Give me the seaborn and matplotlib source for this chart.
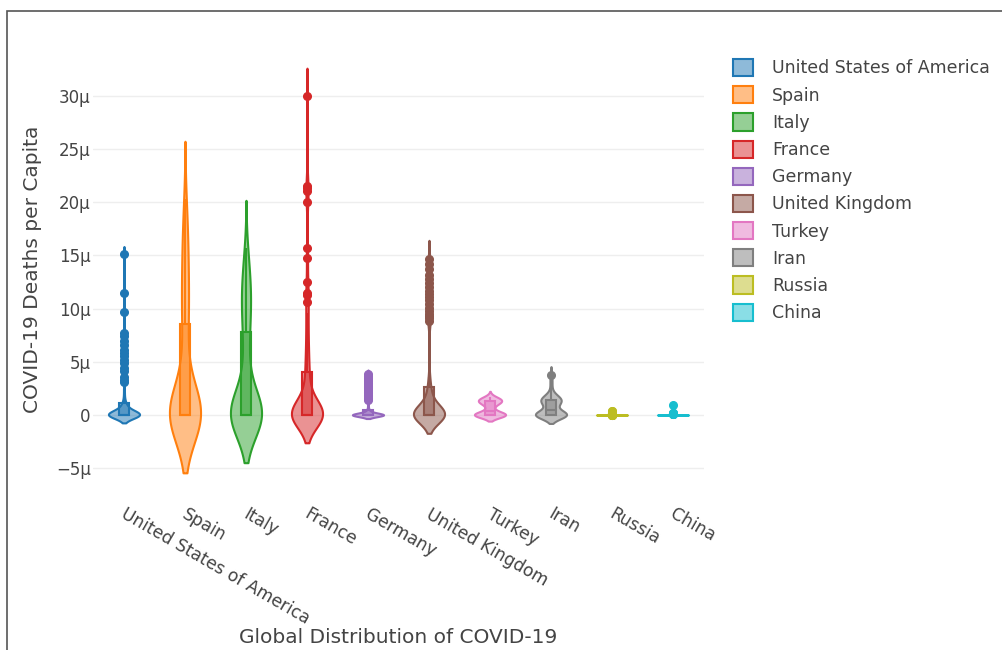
import numpy as np
import pandas as pd
import matplotlib
matplotlib.use("Agg")
import matplotlib.pyplot as plt
import seaborn as sns
from matplotlib.colors import to_rgba
from matplotlib.patches import Patch, Rectangle
from matplotlib.ticker import FuncFormatter, MultipleLocator
from matplotlib.transforms import ScaledTranslation

# Daily COVID-19 deaths per capita, in millionths (μ)
countries = ["United States of America", "Spain", "Italy", "France", "Germany",
             "United Kingdom", "Turkey", "Iran", "Russia", "China"]
colors = ["#1f77b4", "#ff7f0e", "#2ca02c", "#d62728", "#9467bd",
          "#8c564b", "#e377c2", "#7f7f7f", "#bcbd22", "#17becf"]

# days with no deaths reported, per country
zero_days = [34, 44, 44, 40, 45, 40, 32, 35, 62, 48]

# the remaining days
usa = [0.003, 0.006, 0.01, 0.015, 0.02, 0.03, 0.04, 0.05, 0.07, 0.09, 0.12, 0.15, 0.19,
       0.23, 0.28, 0.33, 0.39, 0.45, 0.52, 0.6, 0.68, 0.76, 0.84, 0.92, 1.0, 1.08,
       1.3, 1.8, 2.4, 3.1, 3.3, 3.6, 4.1, 4.4, 4.9, 5.2, 5.5, 5.8, 6.1, 6.6, 7.0, 7.4,
       7.7, 9.7, 11.5, 15.1]
spain = [0.02, 0.05, 0.1, 0.2, 0.4, 0.6, 1.0, 1.5, 2.2, 3.0, 3.9, 4.8, 5.6, 6.5, 7.6, 8.5,
         8.7, 9.1, 9.6, 10.0, 10.5, 11.0, 11.6, 12.1, 12.7, 13.3, 13.9, 14.4, 15.0, 15.6,
         16.2, 16.9, 17.6, 18.3, 19.2, 20.3]
italy = [0.05, 0.15, 0.3, 0.6, 1.0, 1.6, 2.3, 3.0, 3.6, 4.2, 4.8, 5.4, 6.0, 6.6, 7.2, 7.7,
         8.2, 8.7, 9.1, 9.5, 9.8, 10.1, 10.4, 10.7, 11.0, 11.3, 11.6, 11.9, 12.2, 12.5,
         12.9, 13.3, 13.8, 14.4, 15.0, 15.7]
france = [0.01, 0.02, 0.03, 0.05, 0.1, 0.15, 0.2, 0.3, 0.4, 0.6, 0.8, 1.0, 1.3, 1.6, 2.0,
          2.4, 2.8, 3.2, 3.6, 3.9, 4.3, 4.8, 5.3, 5.9, 6.5, 7.2, 8.0, 8.8, 9.6,
          10.6, 11.3, 11.5, 12.5, 14.8, 15.7, 20.0, 21.1, 21.3, 21.5, 30.0]
germany = [0.003, 0.006, 0.01, 0.02, 0.03, 0.05, 0.07, 0.1, 0.13, 0.17, 0.22, 0.27, 0.33,
           0.4, 0.48, 0.6, 0.9, 1.2, 1.45, 1.6, 1.75, 1.9, 2.05, 2.2, 2.35, 2.5, 2.6,
           2.75, 2.9, 3.0, 3.15, 3.3, 3.5, 3.7, 3.9]
uk = [0.015, 0.03, 0.05, 0.08, 0.12, 0.17, 0.23, 0.3, 0.4, 0.5, 0.62, 0.75, 0.9, 1.1, 1.3,
      1.55, 1.8, 2.05, 2.3, 2.55, 2.9, 3.6, 8.8, 9.1, 9.3, 9.5, 9.8, 10.1, 10.4, 10.8,
      11.1, 11.4, 11.7, 12.0, 12.4, 12.8, 13.2, 13.7, 14.2, 14.7]
turkey = [0.01, 0.03, 0.06, 0.1, 0.15, 0.2, 0.27, 0.35, 0.45, 0.55, 0.65, 0.75, 0.85, 0.95,
          1.0, 1.05, 1.08, 1.1, 1.12, 1.15, 1.17, 1.19, 1.21, 1.23, 1.25, 1.27, 1.29, 1.31,
          1.33, 1.35, 1.36, 1.37, 1.38, 1.4, 1.42, 1.43, 1.44, 1.46, 1.47, 1.48, 1.5, 1.52,
          1.54, 1.56, 1.58, 1.6, 1.62, 1.65]
iran = [0.05, 0.1, 0.2, 0.3, 0.4, 0.5, 0.6, 0.7, 0.8, 0.9, 1.0, 1.05, 1.1, 1.12, 1.15,
        1.18, 1.2, 1.22, 1.25, 1.27, 1.3, 1.32, 1.35, 1.37, 1.4, 1.42, 1.45, 1.47, 1.5,
        1.52, 1.55, 1.58, 1.6, 1.63, 1.66, 1.7, 1.74, 1.8, 1.88, 1.96, 2.3, 2.7, 3.1, 3.4,
        3.75]
russia = [0.002, 0.004, 0.007, 0.01, 0.015, 0.02, 0.03, 0.04, 0.05, 0.07, 0.09, 0.12, 0.15,
          0.19, 0.24, 0.29, 0.35, 0.42]
china = [0.001, 0.002, 0.003, 0.005, 0.007, 0.01, 0.012, 0.015, 0.02, 0.025, 0.03, 0.035,
         0.04, 0.045, 0.05, 0.055, 0.06, 0.065, 0.07, 0.075, 0.08, 0.085, 0.09, 0.095, 0.1,
         0.11, 0.12, 0.13, 0.14, 0.15, 0.17, 0.92]

series = [usa, spain, italy, france, germany, uk, turkey, iran, russia, china]
frames = []
for name, zeros, vals in zip(countries, zero_days, series):
    frames.append(pd.DataFrame({"country": name, "deaths": [0.0] * zeros + vals}))
df = pd.concat(frames, ignore_index=True)


def plotly_bandwidth(vals):
    # Silverman's rule as plotly uses it for violins
    q1, q3 = np.percentile(vals, [25, 75])
    sd = vals.std(ddof=1)
    h = 1.059 * min(sd, (q3 - q1) / 1.349) * len(vals) ** -0.2
    return max(h, (vals.max() - vals.min()) / 100)


sns.set_theme(style="white")
plt.rcParams["font.family"] = ["DejaVu Sans"]
text_color = "#444444"

fig = plt.figure(figsize=(10.02, 6.5), dpi=100)
ax = fig.add_axes([0.0933, 0.2454, 0.6088, 0.6806])

for name, color in zip(countries, colors):
    sub = df[df["country"] == name]
    vals = sub["deaths"].to_numpy()
    bw = plotly_bandwidth(vals)

    n0 = len(ax.collections)
    sns.violinplot(data=sub, x="country", y="deaths", order=countries, color=color,
                   saturation=1, bw_method=bw / vals.std(ddof=1), cut=2, gridsize=400,
                   density_norm="width", width=0.51, inner=None, linewidth=1.5,
                   linecolor=color, ax=ax)
    for coll in ax.collections[n0:]:
        coll.set_facecolor(to_rgba(color, 0.5))

    p0 = len(ax.patches)
    sns.boxplot(data=sub, x="country", y="deaths", order=countries, color=color,
                saturation=1, width=0.17, whis=1.5, linewidth=1.5, linecolor=color,
                showcaps=False,
                flierprops=dict(marker="o", markerfacecolor=color, markeredgecolor=color,
                                markersize=5.5),
                ax=ax)
    for patch in ax.patches[p0:]:
        patch.set_facecolor(to_rgba(color, 0.5))

ax.set_ylim(-7.1, 34.5)
ax.set_xlim(-0.5, 9.5)
ax.yaxis.set_major_locator(MultipleLocator(5))
ax.yaxis.set_major_formatter(FuncFormatter(
    lambda v, p: "0" if v == 0 else f"{v:g}μ".replace("-", "\u2212")))
ax.yaxis.grid(True, color="#eeeeee", linewidth=1)
ax.set_axisbelow(True)
for s in ax.spines.values():
    s.set_visible(False)

ax.tick_params(axis="y", length=0, pad=2, labelsize=12, labelcolor=text_color)
ax.tick_params(axis="x", length=0, pad=10.5, labelsize=12.3, labelcolor=text_color)
offset = ScaledTranslation(3 / 100, 0, fig.dpi_scale_trans)
for lab in ax.get_xticklabels():
    lab.set_rotation(-30)
    lab.set_ha("left")
    lab.set_va("top")
    lab.set_rotation_mode("anchor")
    lab.set_transform(lab.get_transform() + offset)

ax.set_xlabel("Global Distribution of COVID-19", fontsize=14.5, color=text_color)
ax.set_ylabel("COVID-19 Deaths per Capita", fontsize=14.5, color=text_color)
ax.xaxis.set_label_coords(0.5, -0.311)
ax.yaxis.set_label_coords(-0.0844, 0.5)

handles = [Patch(facecolor=to_rgba(c, 0.5), edgecolor=c, linewidth=1.5, label=n)
           for n, c in zip(countries, colors)]
fig.legend(handles=handles, loc="upper left", bbox_to_anchor=(733 / 1002, 1 - 59 / 650),
           frameon=False, fontsize=12.5, handlelength=1.15, handleheight=1.15,
           handletextpad=1.1, labelspacing=0.5, borderpad=0, borderaxespad=0,
           labelcolor=text_color)

fig.add_artist(Rectangle((7 / 1002, -0.1), 1.2, (650 - 11) / 650 + 0.1,
                         transform=fig.transFigure, fill=False,
                         edgecolor="#555555", linewidth=1.2))

fig.savefig("out.png", dpi=100)
